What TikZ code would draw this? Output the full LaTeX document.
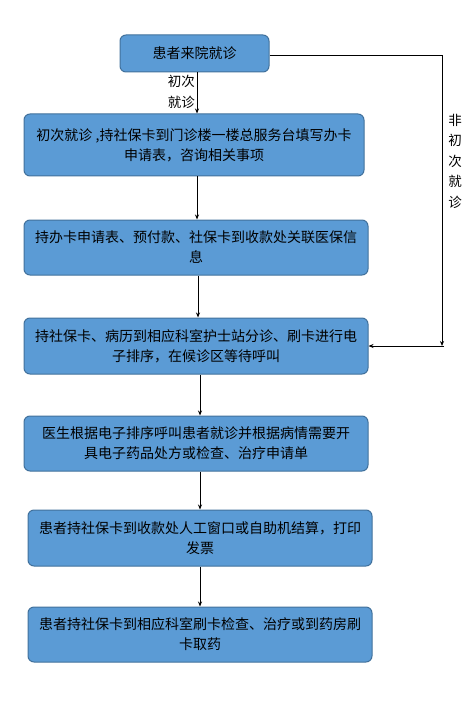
\documentclass[tikz,border=0pt]{standalone}
\usepackage{fontspec}
\newfontfamily\cjk{Noto Sans CJK SC}
\usetikzlibrary{arrows.meta}
\definecolor{boxfill}{HTML}{5B9BD5}
\definecolor{boxline}{HTML}{41719C}
\begin{document}
\begin{tikzpicture}[x=1pt,y=-1pt,
  stepbox/.style={draw=boxline, line width=1pt, fill=boxfill, rounded corners=6pt,
    font=\cjk\fontsize{14}{20}\selectfont, align=center, inner sep=0pt, text=black},
  conn/.style={draw=black, line width=0.8pt, -{Stealth[length=5pt,width=4pt]}},
  lbl/.style={font=\cjk\fontsize{13.5}{20.5}\selectfont, align=center, inner sep=0pt}]
\useasboundingbox (0,0) rectangle (472,714);
\node[stepbox, minimum width=149pt, minimum height=37pt] (b1) at (194.5,53.5) {患者来院就诊};
\node[stepbox, minimum width=340pt, minimum height=62pt] (b2) at (194,145) {初次就诊 ,持社保卡到门诊楼一楼总服务台填写办卡\\申请表，咨询相关事项};
\node[stepbox, minimum width=344pt, minimum height=55pt] (b3) at (196,247.5) {持办卡申请表、预付款、社保卡到收款处关联医保信\\息};
\node[stepbox, minimum width=344pt, minimum height=56pt] (b4) at (196,346) {持社保卡、病历到相应科室护士站分诊、刷卡进行电\\子排序，在候诊区等待呼叫};
\node[stepbox, minimum width=344pt, minimum height=55pt] (b5) at (196,443.5) {医生根据电子排序呼叫患者就诊并根据病情需要开\\具电子药品处方或检查、治疗申请单};
\node[stepbox, minimum width=344pt, minimum height=56pt] (b6) at (200,538) {患者持社保卡到收款处人工窗口或自助机结算，打印\\发票};
\node[stepbox, minimum width=344pt, minimum height=55pt] (b7) at (200,634.5) {患者持社保卡到相应科室刷卡检查、治疗或到药房刷\\卡取药};
\coordinate (c1) at (197,0);
\draw[conn] (b1.south -| c1) -- (b2.north -| c1);
\node[lbl, anchor=east] (l1) at (195,92) {初次\\就诊};
\coordinate (c2) at (197,0);
\draw[conn] (b2.south -| c2) -- (b3.north -| c2);
\coordinate (c3) at (198,0);
\draw[conn] (b3.south -| c3) -- (b4.north -| c3);
\coordinate (c4) at (200,0);
\draw[conn] (b4.south -| c4) -- (b5.north -| c4);
\draw[conn] (b5.south -| c4) -- (b6.north -| c4);
\draw[conn] (b6.south -| c4) -- (b7.north -| c4);
\coordinate (r1) at (442,55);
\coordinate (r2) at (442,346);
\coordinate (r3) at (444,346);
\draw[conn] (b1.east |- r1) -- (r1) -- (r2);
\draw[conn] (r3) -- (b4.east |- r3);
\node[lbl, anchor=north] (l2) at (455,114) {非\\初\\次\\就\\诊};
\end{tikzpicture}
\end{document}
